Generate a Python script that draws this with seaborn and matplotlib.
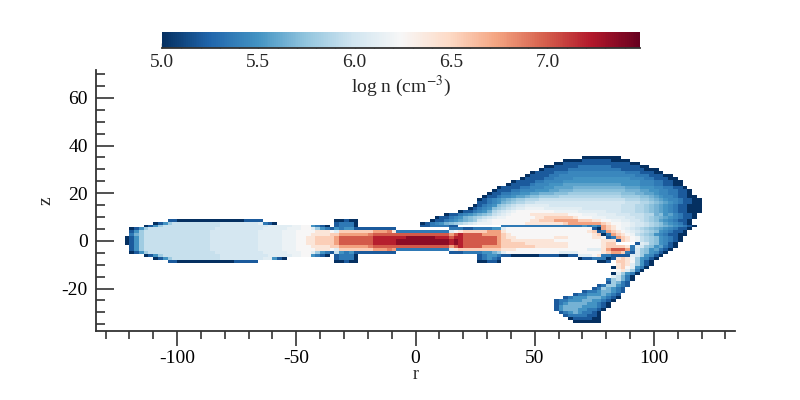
import numpy as np
import pandas as pd
import matplotlib
matplotlib.use('Agg')
import matplotlib.pyplot as plt
import seaborn as sns

# density levels
level_values = {'a': 5.0, 'b': 5.2, 'c': 5.35, 'C': 5.43, 'd': 5.5, 'D': 5.58, 'e': 5.65, 'E': 5.72,
                'f': 5.8, 'F': 5.88, 'g': 5.95, 'G': 6.02, 'h': 6.1, 'H': 6.17, 'i': 6.24, 'j': 6.4,
                'k': 6.55, 'l': 6.75, 'L': 6.87, 'm': 7.0, 'n': 7.2, 'o': 7.35}

r_first = -124
r_step = 2
n_cols = 124
z_first = 35
z_step = 1.25

# one entry per row of cells, top row first: (first column, cell levels)
cell_rows = [
    [(97, "aaaaaaaa")],
    [(93, "aaaabbbbbbaaaa")],
    [(91, "aabbbbbbbbbbbbbbaa")],
    [(89, "aabbbbbcccccccbbbbbbaa")],
    [(88, "abbbbbcccccccccccbbbbbaaa")],
    [(86, "abbbbcccCCCCCCCCCCCCcccbbbaa")],
    [(85, "abbbbccCCCCCCCCCCCCCCCCcccbbbaa")],
    [(84, "abbbbccCCCCddddddddddddCCCccbbbaa")],
    [(82, "abbbbccCCCCddddddddddddddddCCCccbbaa")],
    [(81, "abbbbcCCCdddDDDDDDDDDDDDddddCCCccbbaa")],
    [(79, "abbbbccCCCddDDDDeeeeeeeeeeeDDDdddCCccbba")],
    [(78, "abbbccCCCdddDDeeeEEEEEEEEEEEeeeDDddCCccbba")],
    [(77, "abbccCCddDDeeeEEEfffffffffffEEEeeDDdCCccbba")],
    [(76, "abbcCCdDDeEEffffFFFFFFFFFFFFFffffEEeDdCCcbbaa")],
    [(75, "abcCdDeEffFFFggggggggggggggggggFFFffEeDdCCcbbaa")],
    [(75, "bbcCdeEfFFggGGGGGGGGGGGGGGGGGGGgggFFfEeDdCcbbaa")],
    [(74, "abcCdEfFgGGhhhhhGGGGGGGGGGGGGGGgggFFfEeDdCcbbaaa")],
    [(73, "abcCdEfFgGhhHHHHhhhhhhhhGGGGGGGGgggFFfEeDdCcbbaaa")],
    [(71, "abbcCdeFgGhHiiiiiiiiHHHHHhhhhhhGGGgggFFfEeDdCcbbaaa")],
    [(68, "abbcCdDeEfgGhHiiiijjjjjjjjiiiHHHhhhhGGGgggFFeEdDCcbba")],
    [(66, "abbcCdeEfFgGhHHiiiiiijjkkkkkkjiiiHHHhhhhGGggFfEeDdCcbba")],
    [(10, "bbaaaaaaaaaaaaaabbbb"), (45, "aabaa"),
     (65, "abbcCdDeEfGhHiiiiiiiijjkkklllllkkkjjiiHHhhGGgFfEDdCcbba")],
    [(7, "abdfggggggggggGGGGGGGGhcba"), (45, "bccca"),
     (63, "abcCdeEfFgGhHHHiiiiiiijjjjjjjjklllllllkjiiHHhGGgFfEDdCcba")],
    [(5, "abdfggggggggggggGGGGGGGGGGhhhhhHHiidcba"), (45, "bccca"), (63, "bbccccbb"),
     (80, "cccccccccccccccccdcdc"), (101, "lkjiHHhGGgFfEeDdCcba")],
    [(2, "abdfggggggggggggggGGGGGGGGGGhhhhhHHHiihfdcb"), (45, "dcddb"), (50, "bbbbbbbb"),
     (69, "cccbbccccdd"), (80, "hiiiiiiiiiiiiiiiiiiba"), (101, "lkj"), (104, "iHhGgFfEeDdCcbba")],
    [(2, "bdfggggggggggggggGGGGGGGGGGhhhhhHHHiiiijjji"),
     (45, "hkkkkkkklllLj"), (58, "ccccccccccc"), (69, "hijkkkkkl"), (78, "ll"),
     (80, "jiiiiiiiiiiiiiiiiijk"), (100, "bc"), (102, "lkj"), (105, "iHhGgFfEdCcbba")],
    [(2, "cefggggggggggggggGGGGGGGGGGhhhhhHHHiiijjjjk"),
     (45, "kllllllLmmmmm"), (58, "mmmmmmmmmmm"), (69, "lmnmmmmll"), (78, "ll"),
     (80, "kjiiiiiiiiiiiiiiiiijk"), (101, "ac"), (103, "lkj"), (106, "iHgFfEdCcbbaa")],
    [(1, "abdfggggggggggggggGGGGGGGGGGhhhhhHHHiijjkkkk"),
     (45, "lmmmmmmmnnnnn"), (58, "nnoooooonnn"), (69, "mnnmmmmmm"), (78, "ml"),
     (80, "kjjiiiiiiiijjjiiiiijj"), (101, "i"), (102, "bc"), (104, "lkj"), (107, "iHgFfEdCcba")],
    [(1, "abdfggggggggggggggGGGGGGGGGGhhhhhHHHiijjkkkk"),
     (45, "lmmmmmmmnnnnn"), (58, "ooooooooooo"), (69, "nonmmmmmm"), (78, "ml"),
     (80, "kkjjjjjjjjjiiiiiiiiii"), (101, "jjj"), (104, "b"), (105, "kj"), (107, "iHgFfEdCcba")],
    [(1, "abdfggggggggggggggGGGGGGGGGGhhhhhHHHiijjkkkk"),
     (45, "lmmmmmmmnnnnn"), (58, "ooooooooooo"), (69, "nonmmmmmm"), (78, "ml"),
     (80, "kkkkkjjjjjjjjjiiiiiii"), (101, "jkk"), (108, "b"), (109, "hGfEdCba")],
    [(2, "bdfggggggggggggggGGGGGGGGGGhhhhhHHHiiijjjjk"),
     (45, "kllllllLmmmmm"), (58, "mmmmmmmmmmm"), (69, "lmnmmmmll"), (78, "ll"),
     (80, "kkkkkkkjjjjjjjiiiiiii"), (101, "jkkkkj"), (107, "c"), (108, "hGfEdDcba")],
    [(2, "bdfggggggggggggggGGGGGGGGGGhhhhhHHHiiiijjji"),
     (45, "hkkkkkkklllLl"), (58, "ccccccccccc"), (69, "hjkkkkkkk"), (78, "kk"),
     (80, "jjjiiiiiiiiiiiiiiihhh"), (101, "jlmmml"), (107, "c"), (108, "GfEdDcba")],
    [(2, "abdfggggggggggggggGGGGGGGGGGhhhhhHHHiihfdcb"),
     (45, "gdcdb"), (50, "bbbbbbbb"), (69, "bbbccccddef"),
     (80, "hiiiiiiiiiiihhhhiiiii"), (101, "jkllk"), (106, "cb"), (108, "GfEdCba")],
    [(5, "abdfggggggggggggGGGGGGGGGGhhhhhHHiidcba"), (45, "bccca"), (75, "bcddc"),
     (80, "bbaaaaaabbbbaabb"), (96, "hhhij"), (101, "ccbbbb"), (107, "hGfdCba")],
    [(7, "abdfggggggggggGGGGGGGGGhhdba"), (45, "bccca"), (75, "bcdcb"),
     (96, "abbccc"), (102, "ab"), (104, "jkj"), (107, "HfdCba")],
    [(10, "bbaaaaaaaaaaaabbbbb"), (45, "aabaa"), (75, "aabba"),
     (100, "aab"), (104, "kkj"), (107, "ifdba")],
    [(104, "jkjhfdba")],
    [(103, "ajkihdca")],
    [(104, "ijhfca")],
    [(103, "ahfdca")],
    [(103, "hgeca")],
    [(102, "cfgeca")],
    [(102, "bfecb")],
    [(100, "bcffdcb")],
    [(99, "bcfedcb")],
    [(97, "bccdeedcb")],
    [(95, "bccdddedcb")],
    [(93, "bcdddeeedcba")],
    [(91, "bccdddeeddcba")],
    [(91, "bcdeeeeddcba")],
    [(91, "bdeeeedddcba")],
    [(91, "bdeeeddccba")],
    [(92, "bcdedccba")],
    [(93, "bccccbba")],
    [(94, "abbbbaa")],
    [(95, "aaaaaa")],
]

x_major = [-100, -50, 0, 50, 100]
x_labels = ['-100', '-50', '0', '50', '100']
x_minor = [-130, -120, -110, -90, -80, -70, -60, -40, -30, -20, -10,
           10, 20, 30, 40, 60, 70, 80, 90, 110, 120, 130]
y_major = [-20, 0, 20, 40, 60]
y_labels = ['-20', '0', '20', '40', '60']
y_minor = [-35, -30, -25, -15, -10, -5, 5, 10, 15, 25, 30, 35, 45, 50, 55, 65, 70]
cbar_major = [5.0, 5.5, 6.0, 6.5, 7.0]
cbar_minor = [5.1, 5.2, 5.3, 5.4, 5.6, 5.7, 5.8, 5.9, 6.1, 6.2, 6.3, 6.4,
              6.6, 6.7, 6.8, 6.9, 7.1, 7.2, 7.3, 7.4]

# Build the cell table
grid = np.full((len(cell_rows), n_cols), np.nan)
for i, segments in enumerate(cell_rows):
    for start, cells in segments:
        for j, ch in enumerate(cells):
            if start + j < n_cols:
                grid[i, start + j] = level_values[ch]

r_edges = r_first + r_step * np.arange(n_cols)
z_centers = z_first - z_step * np.arange(len(cell_rows))
df = pd.DataFrame(grid, index=z_centers, columns=r_edges)


def to_col(r):
    return (r - r_first) / r_step


def to_row(z):
    return (z_first + z_step / 2 - z) / z_step


sns.set_style('white')
plt.rcParams['font.family'] = ['Liberation Serif', 'DejaVu Serif']
plt.rcParams['mathtext.fontset'] = 'stix'

dark = '#333333'
fig = plt.figure(figsize=(8, 4), dpi=100)
ax = fig.add_axes([96 / 800, 1 - 331 / 400, 639 / 800, 261 / 400])
cax = fig.add_axes([162 / 800, 1 - 48 / 400, 478 / 800, 16 / 400])

sns.heatmap(df, cmap='RdBu_r', vmin=5, vmax=7.48, ax=ax, cbar_ax=cax,
            cbar_kws={'orientation': 'horizontal'},
            xticklabels=False, yticklabels=False)

ax.set_xlim(to_col(-134), to_col(134))
ax.set_ylim(to_row(-37.8), to_row(71.7))

ax.set_xticks([to_col(v) for v in x_major], x_labels, fontsize=14)
ax.set_xticks([to_col(v) for v in x_minor], minor=True)
ax.set_yticks([to_row(v) for v in y_major], y_labels, fontsize=14)
ax.set_yticks([to_row(v) for v in y_minor], minor=True)

ax.tick_params(axis='x', which='major', direction='out', length=11, width=1.2,
               color=dark, bottom=True, pad=3, labelcolor='black')
ax.tick_params(axis='x', which='minor', direction='out', length=6, width=1.2,
               color=dark, bottom=True)
ax.tick_params(axis='y', which='major', direction='in', length=13, width=1.2,
               color=dark, left=True, pad=6, labelcolor='black')
ax.tick_params(axis='y', which='minor', direction='in', length=6.5, width=1.2,
               color=dark, left=True)

ax.spines['left'].set_visible(True)
ax.spines['bottom'].set_visible(True)
ax.spines['top'].set_visible(False)
ax.spines['right'].set_visible(False)
for side in ['left', 'bottom']:
    ax.spines[side].set_color(dark)
    ax.spines[side].set_linewidth(1.3)

ax.set_xlabel('r', fontsize=13, labelpad=-1)
ax.set_ylabel('z', fontsize=14, labelpad=5)

# Colorbar
cbar = ax.collections[0].colorbar
cbar.outline.set_visible(False)
cax.spines['bottom'].set_visible(True)
cax.spines['bottom'].set_color(dark)
cax.spines['bottom'].set_linewidth(1.3)
cax.set_xticks(cbar_major, ['5.0', '5.5', '6.0', '6.5', '7.0'], fontsize=14)
cax.set_xticks(cbar_minor, minor=True)
cax.tick_params(axis='x', which='major', direction='in', length=3.5, width=1, color=dark,
                bottom=True, pad=4)
cax.tick_params(axis='x', which='minor', direction='in', length=1.5, width=1, color=dark,
                bottom=True)
cax.set_xlabel(r'log n (cm$^{-3}$)', fontsize=14, labelpad=2)

fig.savefig('out.png', dpi=100)
print("Saved: out.png")
